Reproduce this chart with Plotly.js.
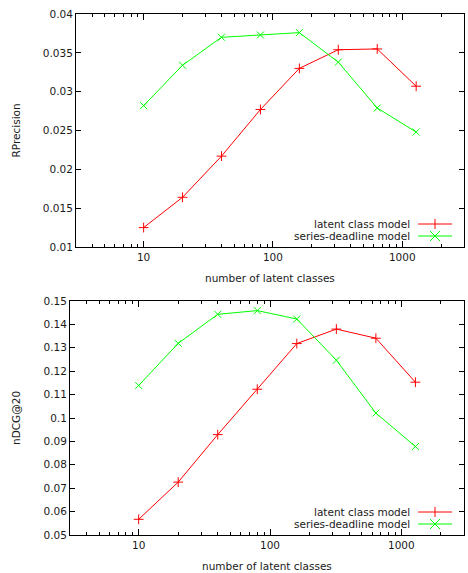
<!DOCTYPE html>
<html>
<head>
<meta charset="utf-8">
<script src="https://cdn.plot.ly/plotly-3.0.1.min.js"></script>
<style>html,body{margin:0;padding:0;background:#fff;}#chart{width:468px;height:573px;}</style>
</head>
<body>
<div id="chart"></div>
<script>
// ---- data ----
const latentClasses = [10, 20, 40, 80, 160, 320, 640, 1280];
const rprecLatent   = [0.0125, 0.0164, 0.0217, 0.0277, 0.0330, 0.0354, 0.0355, 0.0307];
const rprecSeries   = [0.0282, 0.0334, 0.0370, 0.0373, 0.0376, 0.0338, 0.0279, 0.0248];
const ndcgLatent    = [0.0567, 0.0726, 0.0929, 0.1123, 0.1318, 0.1380, 0.1341, 0.1153];
const ndcgSeries    = [0.1139, 0.1319, 0.1443, 0.1459, 0.1423, 0.1247, 0.1021, 0.0878];
const seriesNames   = ["latent class model", "series-deadline model"];
const xTickVals     = [10, 100, 1000];
const xTickText     = ["10", "100", "1000"];
const rprecTicks    = [0.01, 0.015, 0.02, 0.025, 0.03, 0.035, 0.04];
const rprecTickText = ["0.01", "0.015", "0.02", "0.025", "0.03", "0.035", "0.04"];
const ndcgTicks     = [0.05, 0.06, 0.07, 0.08, 0.09, 0.1, 0.11, 0.12, 0.13, 0.14, 0.15];
const ndcgTickText  = ["0.05", "0.06", "0.07", "0.08", "0.09", "0.1", "0.11", "0.12", "0.13", "0.14", "0.15"];

// ---- styling ----
const W = 468, H = 573;
const RED = "#ff0000", GREEN = "#00ff00";
const FONT = {family: "DejaVu Sans, sans-serif", size: 10.5, color: "#1a1a1a"};
const px = v => v / W;
const py = v => (H - v) / H;

const minorVals = [];
[1, 10, 100, 1000].forEach(d => { for (let k = 2; k <= 9; k++) minorVals.push(k * d); });

function trace(y, name, color, symbol, xa, ya) {
  return {
    x: latentClasses, y: y, name: name, xaxis: xa, yaxis: ya,
    type: "scatter", mode: "lines+markers", showlegend: false,
    line: {color: color, width: 1},
    marker: {symbol: symbol, size: 7, color: color, line: {color: color, width: 1}}
  };
}

const data = [
  trace(rprecLatent, seriesNames[0], RED, "cross-thin-open", "x", "y"),
  trace(rprecSeries, seriesNames[1], GREEN, "x-thin-open", "x", "y"),
  trace(ndcgLatent, seriesNames[0], RED, "cross-thin-open", "x2", "y2"),
  trace(ndcgSeries, seriesNames[1], GREEN, "x-thin-open", "x2", "y2")
];

function xaxis(domain, anchor) {
  return {
    type: "log", domain: domain, anchor: anchor,
    range: [Math.log10(3), Math.log10(3000)],
    tickmode: "array", tickvals: xTickVals, ticktext: xTickText,
    ticks: "inside", ticklen: 6, tickcolor: "#000", tickwidth: 1,
    minor: {tickmode: "array", tickvals: minorVals, ticks: "inside", ticklen: 3, tickcolor: "#000", showgrid: false},
    showline: true, linecolor: "#000", linewidth: 1, mirror: "ticks",
    showgrid: false, zeroline: false, tickfont: FONT, fixedrange: true
  };
}
function yaxis(domain, anchor, range, vals, text) {
  return {
    domain: domain, anchor: anchor, range: range,
    tickmode: "array", tickvals: vals, ticktext: text,
    ticks: "inside", ticklen: 5, tickcolor: "#000", tickwidth: 1,
    showline: true, linecolor: "#000", linewidth: 1, mirror: "ticks",
    showgrid: false, zeroline: false, tickfont: FONT, fixedrange: true
  };
}

const top1 = {l: 76, r: 464, t: 14, b: 247};
const bot = {l: 70, r: 464, t: 301, b: 535};

const annotations = [];
const shapes = [];
function addText(text, x, y, xanchor, rot) {
  annotations.push({text: text, x: px(x), y: py(y), xref: "paper", yref: "paper",
    xanchor: xanchor, yanchor: "middle", showarrow: false, font: FONT, textangle: rot || 0});
}
function line(x0, y0, x1, y1, color) {
  shapes.push({type: "line", xref: "paper", yref: "paper",
    x0: px(x0), y0: py(y0), x1: px(x1), y1: py(y1), line: {color: color, width: 1}});
}
function key(rowY, idx) {
  const color = idx === 0 ? RED : GREEN;
  addText(seriesNames[idx], 412, rowY, "right");
  line(418, rowY, 452, rowY, color);
  const cx = 435;
  if (idx === 0) {
    line(cx, rowY - 5, cx, rowY + 5, color);
  } else {
    line(cx - 5, rowY - 5, cx + 5, rowY + 5, color);
    line(cx - 5, rowY + 5, cx + 5, rowY - 5, color);
  }
}

// axis titles
addText("number of latent classes", (top1.l + top1.r) / 2 - 0, 278, "center");
addText("RPrecision", 15, (top1.t + top1.b) / 2, "center", -90);
addText("number of latent classes", (bot.l + bot.r) / 2, 566, "center");
addText("nDCG@20", 16, (bot.t + bot.b) / 2, "center", -90);

key(224, 0); key(236, 1);
key(512, 0); key(524, 1);

const layout = {
  width: W, height: H,
  margin: {l: 0, r: 0, t: 0, b: 0, pad: 0},
  paper_bgcolor: "#fff", plot_bgcolor: "#fff",
  showlegend: false,
  font: FONT,
  xaxis: xaxis([px(top1.l), px(top1.r)], "y"),
  yaxis: yaxis([py(top1.b), py(top1.t)], "x", [0.01, 0.04], rprecTicks, rprecTickText),
  xaxis2: xaxis([px(bot.l), px(bot.r)], "y2"),
  yaxis2: yaxis([py(bot.b), py(bot.t)], "x2", [0.05, 0.15], ndcgTicks, ndcgTickText),
  annotations: annotations,
  shapes: shapes
};

Plotly.newPlot("chart", data, layout, {staticPlot: true, displayModeBar: false});
</script>
</body>
</html>
